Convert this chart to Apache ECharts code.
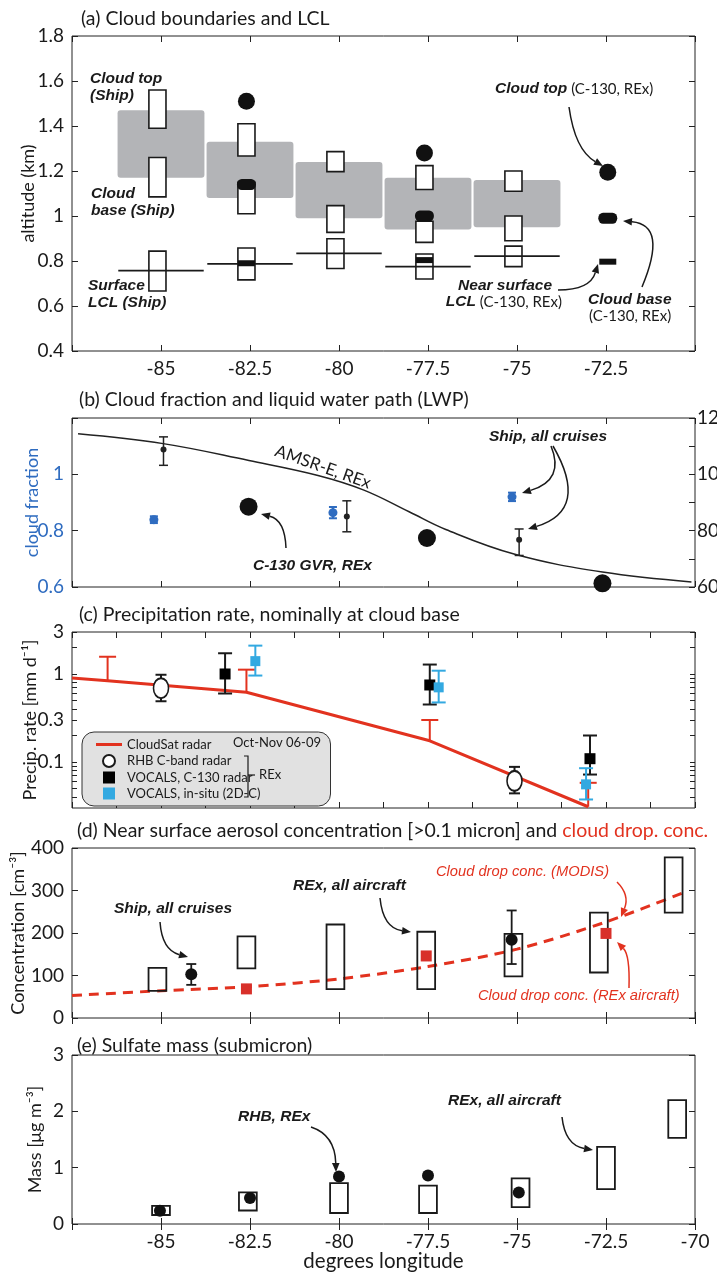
<!DOCTYPE html>
<html>
<head>
<meta charset="utf-8">
<title>Longitude transect, cloud and aerosol</title>
<script src="https://cdn.jsdelivr.net/npm/echarts@6.0.0/dist/echarts.min.js"></script>
<style>
  html, body { margin: 0; padding: 0; background: #fff; }
  #chart { width: 717px; height: 1274px; }
</style>
</head>
<body>
<div id="chart"></div>
<script>
// ---------- (a) cloud boundaries and LCL ----------
const binLon = [-85, -82.5, -80, -77.5, -75];
const layerTop = [1.47, 1.33, 1.24, 1.17, 1.16];
const layerBase = [1.17, 1.08, 0.99, 0.94, 0.95];
const shipLCL = [0.757, 0.787, 0.834, 0.775, 0.822];
const boxLon = [-85.1, -82.6, -80.1, -77.6, -75.1];
const topLo = [1.39, 1.267, 1.197, 1.118, 1.11];
const topHi = [1.56, 1.41, 1.286, 1.224, 1.20];
const baseLo = [1.085, 1.01, 0.927, 0.883, 0.89];
const baseHi = [1.26, 1.15, 1.046, 0.977, 1.0];
const lclLo = [0.667, 0.716, 0.767, 0.72, 0.775];
const lclHi = [0.844, 0.858, 0.899, 0.831, 0.866];
const c130Lon = [-82.6, -77.6, -72.45];
const c130Top = [1.51, 1.28, 1.194];
const c130Base = [1.14, 1.0, 0.99];
const c130LCL = [0.79, 0.804, 0.797];

// ---------- (b) cloud fraction and LWP ----------
const amsrLon = [-87.33, -84.94, -82.53, -80.59, -79.3, -78.03, -77.0, -75.06, -72.6, -70.1];
const amsrLWP = [114.4, 110.9, 104.9, 99.6, 94.4, 86.7, 80.4, 71.6, 65.3, 61.8];
const shipCfLon = [-85.2, -80.17, -75.14];
const shipCf = [0.839, 0.864, 0.92];
const shipCfErr = [0.012, 0.02, 0.015];
const shipLwpLon = [-84.93, -79.78, -74.94];
const shipLwp = [108.8, 85.0, 76.8];
const shipLwpLo = [103.2, 79.6, 71.2];
const shipLwpHi = [113.3, 90.6, 80.6];
const gvrLon = [-82.54, -77.53, -72.6];
const gvrLwp = [88.5, 77.4, 61.3];

// ---------- (c) precipitation rate ----------
const csLon = [-87.5, -86.5, -82.6, -77.45, -73.0];
const csRate = [0.90, 0.84, 0.62, 0.174, 0.031];
const csUp = [null, 1.57, 1.12, 0.30, 0.058];
const rhbLon = [-85.0, -75.07];
const rhbRate = [0.69, 0.061];
const rhbLo = [0.49, 0.044];
const rhbHi = [0.98, 0.088];
const radarLon = [-83.2, -77.45, -72.95];
const radarRate = [1.0, 0.75, 0.109];
const radarLo = [0.60, 0.45, 0.072];
const radarHi = [1.72, 1.28, 0.20];
const insituLon = [-82.35, -77.2, -73.06];
const insituRate = [1.40, 0.705, 0.0557];
const insituLo = [0.96, 0.475, 0.0375];
const insituHi = [2.1, 1.09, 0.085];
const precipTicks = [0.04, 0.05, 0.06, 0.07, 0.08, 0.09, 0.1, 0.2, 0.3, 0.4, 0.5, 0.6, 0.7, 0.8, 0.9, 1, 2, 3];
const precipLabels = [0.1, 0.3, 1, 3];

// ---------- (d) aerosol and cloud drop concentration ----------
const aerLon = [-85.1, -82.6, -80.1, -77.55, -75.1, -72.7, -70.6];
const aerLo = [64, 117, 68, 68, 98, 107, 248];
const aerHi = [118, 192, 220, 203, 198, 248, 378];
const shipAerLon = [-84.15, -75.15];
const shipAer = [103, 184];
const shipAerLo = [78, 127];
const shipAerHi = [127, 253];
const dropLon = [-82.6, -77.55, -72.5];
const dropConc = [68.5, 146, 199];
const modisLon = [-87.5, -85, -82.5, -80, -77.5, -75, -72.5, -70.2];
const modisConc = [53, 64, 74, 92, 121, 162, 226, 299];

// ---------- (e) sulfate mass ----------
const sulLon = [-85.0, -82.56, -80.0, -77.5, -74.9, -72.5, -70.5];
const sulLo = [0.16, 0.24, 0.195, 0.195, 0.30, 0.62, 1.53];
const sulHi = [0.32, 0.56, 0.725, 0.68, 0.81, 1.37, 2.2];
const rhbSulLon = [-85.03, -82.5, -80.0, -77.5, -74.95];
const rhbSul = [0.235, 0.46, 0.845, 0.86, 0.56];

const FONT = 'Lato, "Noto Sans", sans-serif';
const ANNO = '"Liberation Sans Narrow", "Liberation Sans", sans-serif';
const INK = '#1a1a1a';
const RED = '#e2321f';
const BLUE = '#2f6cc0';
const CYAN = '#33a9e1';
const GRAY = '#b3b4b7';
const TICK_FS = 19;
const NAME_FS = 18;

const grids = [
  {top: 36, height: 315},
  {top: 418, height: 169},
  {top: 632, height: 176},
  {top: 848, height: 170},
  {top: 1055, height: 169}
].map(g => Object.assign({left: 72, right: 22, outerBoundsMode: 'none', containLabel: false,
  show: true, borderColor: '#222', borderWidth: 1}, g));

function xAx(g, pos, opts) {
  opts = opts || {};
  return {
    type: 'value', gridIndex: g, position: pos, min: -87.5, max: -70,
    interval: opts.interval || 2.5,
    axisLine: {show: false},
    axisTick: {inside: true, length: 6, lineStyle: {color: '#222'}},
    splitLine: {show: false},
    axisLabel: {
      show: !!opts.labels, margin: 8, fontSize: TICK_FS, fontFamily: FONT, color: INK,
      formatter: v => (v === -87.5 || (opts.hideLast && v === -70)) ? '' : String(v)
    },
    name: opts.name || '', nameLocation: 'middle', nameGap: 27, nameMoveOverlap: false,
    nameTextStyle: {fontSize: 20.5, fontFamily: FONT, color: INK}
  };
}

function lab(extra) {
  return Object.assign({show: true, margin: 8, fontSize: TICK_FS, fontFamily: FONT, color: INK}, extra);
}

function yAx(g, pos, opts) {
  return Object.assign({
    type: 'value', gridIndex: g, position: pos,
    axisLine: {show: false},
    axisTick: {inside: true, length: 6, lineStyle: {color: '#222'}},
    splitLine: {show: false},
    axisLabel: {show: false},
    nameLocation: 'middle', nameMoveOverlap: false,
    nameTextStyle: {fontSize: NAME_FS, fontFamily: FONT, color: INK}
  }, opts);
}

const xAxes = [
  xAx(0, 'bottom', {labels: true, hideLast: true}), xAx(0, 'top'),
  xAx(1, 'bottom'), xAx(1, 'top'),
  xAx(2, 'bottom', {interval: 1.25}), xAx(2, 'top', {interval: 1.25}),
  xAx(3, 'bottom'), xAx(3, 'top'),
  xAx(4, 'bottom', {labels: true, name: 'degrees longitude'}), xAx(4, 'top')
];

const logTicks = {inside: true, length: 5, customValues: precipTicks, lineStyle: {color: '#222'}};
const yAxes = [
  yAx(0, 'left', {min: 0.4, max: 1.8, interval: 0.2, name: 'altitude (km)', nameGap: 35, axisLabel: lab()}),
  yAx(0, 'right', {min: 0.4, max: 1.8, interval: 0.2}),
  yAx(1, 'left', {min: 0.6, max: 1.2, interval: 0.2, name: 'cloud fraction', nameGap: 31,
    nameTextStyle: {fontSize: NAME_FS, fontFamily: FONT, color: BLUE},
    axisLabel: lab({color: BLUE,
      formatter: v => (Math.round(v * 10) / 10 > 1.1 ? '' : String(Math.round(v * 10) / 10))})}),
  yAx(1, 'right', {min: 60, max: 120, interval: 10,
    axisLabel: lab({margin: 2, formatter: v => (v % 20 === 0 ? String(v) : '')})}),
  yAx(2, 'left', {type: 'log', logBase: 10, min: 0.03, max: 3, axisTick: logTicks,
    name: 'Precip. rate [mm d\u207B\u00B9]', nameGap: 33,
    axisLabel: lab({customValues: precipLabels, formatter: v => String(+Number(v).toPrecision(2))})}),
  yAx(2, 'right', {type: 'log', logBase: 10, min: 0.03, max: 3, axisTick: logTicks}),
  yAx(3, 'left', {min: 0, max: 400, interval: 100, name: 'Concentration [cm\u207B\u00B3]', nameGap: 45, axisLabel: lab()}),
  yAx(3, 'right', {min: 0, max: 400, interval: 100}),
  yAx(4, 'left', {min: 0, max: 3, interval: 1, name: 'Mass [\u03BCg m\u207B\u00B3]', nameGap: 28, axisLabel: lab()}),
  yAx(4, 'right', {min: 0, max: 3, interval: 1})
];

// rectangles spanning [lo, hi] at a longitude, width in degrees
function boxes(g, yi, lon, lo, hi, width, style, z) {
  return {
    type: 'custom', xAxisIndex: 2 * g, yAxisIndex: yi, z: z, silent: true,
    data: lon.map((x, i) => [x, lo[i], hi[i]]),
    renderItem: (params, api) => {
      const a = api.coord([api.value(0) - width / 2, api.value(2)]);
      const b = api.coord([api.value(0) + width / 2, api.value(1)]);
      return {type: 'rect', shape: {x: a[0], y: a[1], width: b[0] - a[0], height: b[1] - a[1], r: style.r || 0},
        style: {fill: style.fill, stroke: style.stroke, lineWidth: style.lineWidth || 0}};
    }
  };
}

// vertical error bars, capPx = cap width in pixels
function errs(g, yi, lon, lo, hi, capPx, color, lw, z, noBottomCap) {
  return {
    type: 'custom', xAxisIndex: 2 * g, yAxisIndex: yi, z: z, silent: true,
    data: lon.map((x, i) => [x, lo[i], hi[i]]).filter(d => d[1] != null && d[2] != null),
    renderItem: (params, api) => {
      const t = api.coord([api.value(0), api.value(2)]);
      const b = api.coord([api.value(0), api.value(1)]);
      const h = capPx / 2;
      const st = {stroke: color, lineWidth: lw};
      const kids = [
        {type: 'line', shape: {x1: t[0], y1: t[1], x2: b[0], y2: b[1]}, style: st},
        {type: 'line', shape: {x1: t[0] - h, y1: t[1], x2: t[0] + h, y2: t[1]}, style: st}
      ];
      if (!noBottomCap) kids.push({type: 'line', shape: {x1: b[0] - h, y1: b[1], x2: b[0] + h, y2: b[1]}, style: st});
      return {type: 'group', children: kids};
    }
  };
}

// horizontal segments of a given width in degrees
function levels(g, yi, lon, val, width, color, lw, z) {
  return {
    type: 'custom', xAxisIndex: 2 * g, yAxisIndex: yi, z: z, silent: true,
    data: lon.map((x, i) => [x, val[i]]),
    renderItem: (params, api) => {
      const a = api.coord([api.value(0) - width / 2, api.value(1)]);
      const b = api.coord([api.value(0) + width / 2, api.value(1)]);
      return {type: 'line', shape: {x1: a[0], y1: a[1], x2: b[0], y2: b[1]}, style: {stroke: color, lineWidth: lw}};
    }
  };
}

function dots(g, yi, lon, val, symbol, size, itemStyle, z, name) {
  return {
    type: 'scatter', name: name, xAxisIndex: 2 * g, yAxisIndex: yi, z: z, silent: true,
    data: lon.map((x, i) => [x, val[i]]),
    symbol: symbol, symbolSize: size, itemStyle: Object.assign({opacity: 1}, itemStyle)
  };
}

const STADIUM = 'path://M5,0H15A5,5,0,0,1,15,10H5A5,5,0,0,1,5,0Z';
const ELLIPSE = 'path://M0,10A10,10,0,1,0,20,10A10,10,0,1,0,0,10Z';
const SQUARE = 'path://M0,0H10V10H0Z';

const series = [
  // (a)
  boxes(0, 0, binLon, layerBase, layerTop, 2.44, {fill: GRAY, r: 3}, 1),
  boxes(0, 0, boxLon, topLo, topHi, 0.48, {fill: '#fff', stroke: INK, lineWidth: 1.6}, 2),
  boxes(0, 0, boxLon, baseLo, baseHi, 0.48, {fill: '#fff', stroke: INK, lineWidth: 1.6}, 2),
  boxes(0, 0, boxLon, lclLo, lclHi, 0.48, {fill: '#fff', stroke: INK, lineWidth: 1.6}, 2),
  levels(0, 0, binLon, shipLCL, 2.4, INK, 1.8, 3),
  dots(0, 0, c130Lon, c130Top, 'circle', 17, {color: '#111'}, 4),
  dots(0, 0, c130Lon, c130Base, STADIUM, [19, 11], {color: '#111'}, 4),
  dots(0, 0, c130Lon, c130LCL, 'rect', [17, 6], {color: '#111'}, 4),
  // (b)
  {type: 'line', xAxisIndex: 2, yAxisIndex: 3, z: 2, silent: true, smooth: 0.4, symbol: 'none',
    data: amsrLon.map((x, i) => [x, amsrLWP[i]]), lineStyle: {color: '#222', width: 1.5}},
  errs(1, 2, shipCfLon, shipCf.map((v, i) => v - shipCfErr[i]), shipCf.map((v, i) => v + shipCfErr[i]), 8, BLUE, 2, 3),
  dots(1, 2, shipCfLon, shipCf, 'circle', 9, {color: BLUE}, 4),
  errs(1, 3, shipLwpLon, shipLwpLo, shipLwpHi, 9, '#222', 1.5, 3),
  dots(1, 3, shipLwpLon, shipLwp, 'circle', 6, {color: '#222'}, 4),
  dots(1, 3, gvrLon, gvrLwp, 'circle', 18, {color: '#111'}, 4),
  // (c)
  {type: 'line', name: 'CloudSat radar', xAxisIndex: 4, yAxisIndex: 4, z: 2, silent: true, symbol: 'none',
    data: csLon.map((x, i) => [x, csRate[i]]), lineStyle: {color: RED, width: 3}, itemStyle: {color: RED}},
  errs(2, 4, csLon, csRate, csUp, 17, RED, 2, 2, true),
  errs(2, 4, rhbLon, rhbLo, rhbHi, 11, INK, 2, 3),
  dots(2, 4, rhbLon, rhbRate, ELLIPSE, [15, 20], {color: '#fff', borderColor: INK, borderWidth: 1.8}, 4, 'RHB C-band radar'),
  errs(2, 4, radarLon, radarLo, radarHi, 14, INK, 2, 3),
  dots(2, 4, radarLon, radarRate, SQUARE, 11, {color: '#000'}, 4, 'VOCALS, C-130 radar'),
  errs(2, 4, insituLon, insituLo, insituHi, 14, CYAN, 2, 3),
  dots(2, 4, insituLon, insituRate, SQUARE, 10, {color: CYAN}, 4, 'VOCALS, in-situ (2D-C)'),
  // (d)
  {type: 'line', xAxisIndex: 6, yAxisIndex: 6, z: 2, silent: true, smooth: 0.3, symbol: 'none',
    data: modisLon.map((x, i) => [x, modisConc[i]]), lineStyle: {color: RED, width: 3, type: [10, 7]}},
  boxes(3, 6, aerLon, aerLo, aerHi, 0.5, {fill: 'transparent', stroke: INK, lineWidth: 1.8}, 3),
  errs(3, 6, shipAerLon, shipAerLo, shipAerHi, 10, INK, 1.8, 3),
  dots(3, 6, shipAerLon, shipAer, 'circle', 12, {color: '#111'}, 4),
  dots(3, 6, dropLon, dropConc, 'rect', 11, {color: '#d8302a'}, 4),
  // (e)
  boxes(4, 8, sulLon, sulLo, sulHi, 0.5, {fill: 'transparent', stroke: INK, lineWidth: 1.8}, 3),
  dots(4, 8, rhbSulLon, rhbSul, 'circle', 12, {color: '#111'}, 4)
];

// annotation helpers (pixel placed labels and arrows)
const ANNO_FS = 15.5;
function txt(x, y, text, o) {
  o = o || {};
  return {type: 'text', z: 100, rotation: o.rotation || 0, x: o.rotation ? x : 0, y: o.rotation ? y : 0,
    style: {x: o.rotation ? 0 : x, y: o.rotation ? 0 : y, text: text, fill: o.color || INK,
      fontFamily: o.family || ANNO, fontSize: o.size || ANNO_FS,
      fontWeight: o.weight || 'bold', fontStyle: o.style || 'italic',
      align: o.align || 'left', verticalAlign: 'middle', rich: o.rich}};
}
const boldRich = {b: {fontFamily: ANNO, fontSize: ANNO_FS, fontWeight: 'bold', fontStyle: 'italic', fill: INK}};
const plain = {weight: 'normal', style: 'normal', family: FONT, size: 15};
function arrow(x1, y1, cx, cy, x2, y2, color) {
  color = color || INK;
  const ang = Math.atan2(y2 - cy, x2 - cx);
  const L = 9, W = 3.8;
  const bx = x2 - L * Math.cos(ang), by = y2 - L * Math.sin(ang);
  const px = -Math.sin(ang) * W, py = Math.cos(ang) * W;
  return [
    {type: 'bezierCurve', z: 100, shape: {x1: x1, y1: y1, x2: bx, y2: by, cpx1: cx, cpy1: cy},
      style: {stroke: color, lineWidth: 1.5, fill: null}},
    {type: 'polygon', z: 100, shape: {points: [[x2, y2], [bx + px, by + py], [bx - px, by - py]]}, style: {fill: color}}
  ];
}

const graphics = [
  // (a)
  txt(90, 79, 'Cloud top'), txt(90, 96, '(Ship)'),
  txt(91, 194, 'Cloud'), txt(91, 211, 'base (Ship)'),
  txt(88, 286, 'Surface'), txt(88, 303, 'LCL (Ship)'),
  txt(495, 89, '{b|Cloud top} (C-130, REx)', Object.assign({rich: boldRich}, plain)),
  txt(552, 286, 'Near surface', {align: 'right'}),
  txt(562, 302, '{b|LCL} (C-130, REx)', Object.assign({align: 'right', rich: boldRich}, plain)),
  txt(588, 300, 'Cloud base'),
  txt(589, 316, '(C-130, REx)', plain),
  ...arrow(569, 107, 575, 150, 603, 166),
  ...arrow(558, 290, 590, 290, 598, 264),
  ...arrow(642, 287, 668, 225, 623, 221),
  // (b)
  txt(489, 437, 'Ship, all cruises'),
  ...arrow(551, 446, 565, 480, 522, 493),
  ...arrow(553, 446, 590, 510, 528, 529),
  txt(253, 566, 'C-130 GVR, REx'),
  ...arrow(286, 548, 285, 520, 261, 514),
  txt(323, 467, 'AMSR-E, REx', Object.assign({}, plain, {rotation: -0.34, align: 'center', size: 17})),
  // (c) legend extras
  txt(233, 743, 'Oct-Nov 06-09', Object.assign({}, plain, {size: 13})),
  {type: 'polyline', z: 100, shape: {points: [[244, 756], [248, 756], [248, 797], [244, 797]]}, style: {stroke: INK, lineWidth: 1.2, fill: null}},
  {type: 'line', z: 100, shape: {x1: 248, y1: 775, x2: 255, y2: 775}, style: {stroke: INK, lineWidth: 1.2}},
  txt(259, 775, 'REx', Object.assign({}, plain, {size: 13})),
  // (d)
  txt(114, 909, 'Ship, all cruises'),
  ...arrow(160, 922, 162, 950, 188, 957),
  txt(293, 886, 'REx, all aircraft'),
  ...arrow(380, 898, 383, 928, 411, 932),
  txt(436, 872, 'Cloud drop conc. (MODIS)', {color: RED, weight: 'normal', size: 14.7}),
  ...arrow(617, 882, 630, 895, 621, 917, RED),
  txt(478, 996, 'Cloud drop conc. (REx aircraft)', {color: RED, weight: 'normal', size: 14.7}),
  ...arrow(629, 988, 630, 955, 617, 942, RED),
  // (e)
  txt(238, 1117, 'RHB, REx'),
  ...arrow(311, 1127, 335, 1135, 336, 1172),
  txt(448, 1101, 'REx, all aircraft'),
  ...arrow(562, 1117, 565, 1145, 593, 1150)
];

const TITLE_FS = 19.5;
const titleStyle = {fontSize: TITLE_FS, fontWeight: 'normal', fontFamily: FONT, color: INK};
const option = {
  animation: false,
  backgroundColor: '#fff',
  title: [
    {text: '(a) Cloud boundaries and LCL', left: 76, top: 4, textStyle: titleStyle},
    {text: '(b) Cloud fraction and liquid water path (LWP)', left: 74, top: 385, textStyle: titleStyle},
    {text: '(c) Precipitation rate, nominally at cloud base', left: 74, top: 600, textStyle: titleStyle},
    {text: '(d) Near surface aerosol concentration [>0.1 micron] and {r|cloud drop. conc.}', left: 72, top: 816,
      textStyle: Object.assign({rich: {r: {color: RED, fontSize: TITLE_FS, fontFamily: FONT}}}, titleStyle)},
    {text: '(e) Sulfate mass (submicron)', left: 72, top: 1031, textStyle: titleStyle}
  ],
  legend: {
    left: 82, top: 732, orient: 'vertical', selectedMode: false,
    itemGap: 3, itemWidth: 26, itemHeight: 12,
    padding: [6, 70, 6, 14],
    backgroundColor: '#e1e1e1', borderColor: '#333', borderWidth: 1, borderRadius: 12,
    textStyle: {fontSize: 13, fontFamily: FONT, color: INK},
    data: [
      {name: 'CloudSat radar', icon: 'path://M0,0H26V3H0Z'},
      {name: 'RHB C-band radar', icon: 'circle'},
      {name: 'VOCALS, C-130 radar', icon: SQUARE},
      {name: 'VOCALS, in-situ (2D-C)', icon: SQUARE}
    ]
  },
  grid: grids,
  xAxis: xAxes,
  yAxis: yAxes,
  series: series,
  graphic: {elements: graphics}
};

const myChart = echarts.init(document.getElementById('chart'));
myChart.setOption(option);
</script>
</body>
</html>
